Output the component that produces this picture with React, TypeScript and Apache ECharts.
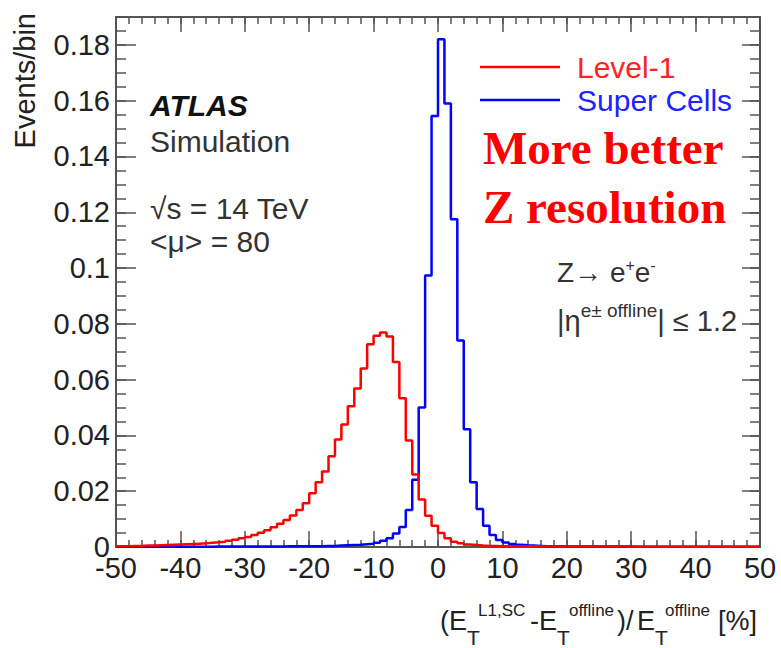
import React, { useEffect, useRef } from 'react';
import * as echarts from 'echarts';

// Histogram binning (percent)
const BIN_START = -50;
const BIN_WIDTH = 1;

// Level-1 (red) bin contents, bins from -50 to 50, width 1
const LEVEL1 = [
  0.0003, 0.0003, 0.0004, 0.0004, 0.0005, 0.0005, 0.0006, 0.0007, 0.0008, 0.0009,
  0.001, 0.0011, 0.0012, 0.0013, 0.0015, 0.0017, 0.0019, 0.0022, 0.0026, 0.0031,
  0.0036, 0.0043, 0.0051, 0.006, 0.0071, 0.0083, 0.0097, 0.0113, 0.0133, 0.0157,
  0.0193, 0.0232, 0.0271, 0.0325, 0.0385, 0.0439, 0.0505, 0.0568, 0.064, 0.0727,
  0.0757, 0.0769, 0.0755, 0.0663, 0.0533, 0.0382, 0.026, 0.017, 0.0112, 0.0076,
  0.005, 0.0031, 0.0019, 0.0013, 0.0009, 0.0007, 0.0005, 0.0004, 0.0004, 0.0003,
  0.0003, 0.0003, 0.0003, 0.0003, 0.0003, 0.0002, 0.0002, 0.0002, 0.0002, 0.0002,
  0.0002, 0.0002, 0.0002, 0.0002, 0.0002, 0.0002, 0.0002, 0.0002, 0.0002, 0.0002,
  0.0001, 0.0001, 0.0001, 0.0001, 0.0001, 0.0001, 0.0001, 0.0001, 0.0001, 0.0001,
  0.0001, 0.0001, 0.0001, 0.0001, 0.0001, 0.0001, 0.0001, 0.0001, 0.0001, 0.0001,
];

// Super Cells (blue) bin contents
const SUPER_CELLS = [
  0.0001, 0.0001, 0.0001, 0.0001, 0.0001, 0.0001, 0.0001, 0.0001, 0.0001, 0.0001,
  0.0001, 0.0001, 0.0001, 0.0001, 0.0001, 0.0002, 0.0002, 0.0002, 0.0002, 0.0002,
  0.0002, 0.0002, 0.0002, 0.0002, 0.0002, 0.0002, 0.0003, 0.0003, 0.0003, 0.0003,
  0.0003, 0.0003, 0.0004, 0.0004, 0.0005, 0.0006, 0.0007, 0.0008, 0.001, 0.0012,
  0.0015, 0.0022, 0.0031, 0.0048, 0.0072, 0.0133, 0.0241, 0.05, 0.0973, 0.1545,
  0.182, 0.159, 0.1175, 0.074, 0.0422, 0.0232, 0.0136, 0.0076, 0.0043, 0.0025,
  0.0016, 0.0011, 0.0008, 0.0006, 0.0005, 0.0004, 0.0003, 0.0003, 0.0003, 0.0002,
  0.0002, 0.0002, 0.0002, 0.0002, 0.0002, 0.0002, 0.0002, 0.0002, 0.0002, 0.0002,
  0.0001, 0.0001, 0.0001, 0.0001, 0.0001, 0.0001, 0.0001, 0.0001, 0.0001, 0.0001,
  0.0001, 0.0001, 0.0001, 0.0001, 0.0001, 0.0001, 0.0001, 0.0001, 0.0001, 0.0001,
];

const SERIES_NAMES = ['Level-1', 'Super Cells'];
const X_MIN = -50;
const X_MAX = 50;
const X_MAJOR = 10;
const X_MINOR = 2;
const Y_MIN = 0;
const Y_MAX = 0.19;
const Y_MAJOR = 0.02;
const Y_MINOR = 0.005;

function toSteps(values: number[]): number[][] {
  const pts = values.map((v, i) => [BIN_START + i * BIN_WIDTH, v]);
  pts.push([BIN_START + values.length * BIN_WIDTH, values[values.length - 1]]);
  return pts;
}

export default function App() {
  const ref = useRef<HTMLDivElement>(null);

  useEffect(() => {
    if (!ref.current) return;
    const chart = echarts.init(ref.current, null, { renderer: 'svg' });
    const SANS = '"Liberation Sans", Arial, Helvetica, sans-serif';
    const SERIF = '"Liberation Serif", "Times New Roman", serif';
    const FRAME = '#555';
    const TXT = '#222';

    const xAxis = (position: string, interval: number, tickLen: number, showLine: boolean, showLabel: boolean) => ({
      type: 'value',
      position,
      min: X_MIN,
      max: X_MAX,
      interval,
      splitLine: { show: false },
      axisLine: { show: showLine, onZero: false, lineStyle: { color: FRAME, width: 2 } },
      axisTick: { show: true, inside: true, length: tickLen, lineStyle: { color: FRAME, width: 1.5 } },
      axisLabel: {
        show: showLabel,
        fontSize: 29,
        fontFamily: SANS,
        color: TXT,
        margin: 6,
      },
    });
    const yAxis = (position: string, interval: number, tickLen: number, showLine: boolean, showLabel: boolean) => ({
      type: 'value',
      position,
      min: Y_MIN,
      max: Y_MAX,
      interval,
      splitLine: { show: false },
      axisLine: { show: showLine, onZero: false, lineStyle: { color: FRAME, width: 2 } },
      axisTick: { show: true, inside: true, length: tickLen, lineStyle: { color: FRAME, width: 1.5 } },
      axisLabel: {
        show: showLabel,
        showMaxLabel: false,
        fontSize: 29,
        fontFamily: SANS,
        color: TXT,
        margin: 6,
      },
    });

    const txt = (text: string, x: number, y: number, font: string, fill = TXT, extra: any = {}) => ({
      type: 'text',
      x,
      y,
      silent: true,
      style: { text, font, fill, textAlign: 'left', textVerticalAlign: 'middle', ...extra },
    });

    const mainF = `27px ${SANS}`;
    const subF = `21px ${SANS}`;
    const supF = `17px ${SANS}`;

    chart.setOption({
      animation: false,
      backgroundColor: '#ffffff',
      grid: { left: 116, right: 21, top: 17, bottom: 101, containLabel: false },
      xAxis: [
        xAxis('bottom', X_MAJOR, 16, true, true),
        xAxis('bottom', X_MINOR, 7, false, false),
        xAxis('top', X_MAJOR, 15, true, false),
        xAxis('top', X_MINOR, 7, false, false),
      ],
      yAxis: [
        yAxis('left', Y_MAJOR, 20, true, true),
        yAxis('left', Y_MINOR, 10, false, false),
        yAxis('right', Y_MAJOR, 18, true, false),
        yAxis('right', Y_MINOR, 10, false, false),
      ],
      legend: {
        orient: 'vertical',
        left: 475,
        top: 47,
        icon: 'rect',
        itemWidth: 80,
        itemHeight: 2.5,
        itemGap: 3,
        selectedMode: false,
        data: [
          { name: SERIES_NAMES[0], textStyle: { color: '#f22' } },
          { name: SERIES_NAMES[1], textStyle: { color: '#22f' } },
        ],
        textStyle: { fontSize: 30, fontFamily: SANS, padding: [0, 0, 0, 12] },
      },
      series: [
        {
          name: SERIES_NAMES[1],
          type: 'line',
          step: 'end',
          xAxisIndex: 0,
          yAxisIndex: 0,
          symbol: 'none',
          data: toSteps(SUPER_CELLS),
          lineStyle: { color: '#0000ff', width: 2.5 },
          itemStyle: { color: '#0000ff' },
          z: 2,
        },
        {
          name: SERIES_NAMES[0],
          type: 'line',
          step: 'end',
          xAxisIndex: 0,
          yAxisIndex: 0,
          symbol: 'none',
          data: toSteps(LEVEL1),
          lineStyle: { color: '#ff0000', width: 2.5 },
          itemStyle: { color: '#ff0000' },
          z: 3,
        },
      ],
      graphic: [
        {
          type: 'text',
          x: 25,
          y: 13,
          rotation: Math.PI / 2,
          silent: true,
          style: { text: 'Events/bin', font: `29px ${SANS}`, fill: TXT, textAlign: 'right', textVerticalAlign: 'middle' },
        },
        txt('ATLAS', 150, 105, `italic bold 30px ${SANS}`, '#111'),
        txt('Simulation', 150, 141, `30px ${SANS}`, '#333'),
        txt('√s = 14 TeV', 150, 208, `30px ${SANS}`, '#333'),
        txt('<μ> = 80', 150, 241, `30px ${SANS}`, '#333'),
        txt('More better', 483, 148, `bold 47px ${SERIF}`, '#ff0000'),
        txt('Z resolution', 483, 207, `bold 47px ${SERIF}`, '#ff0000'),
        {
          type: 'text',
          x: 557,
          y: 272,
          silent: true,
          style: {
            text: '{m|Z→ e}{s|+}{m|e}{s|-}',
            textAlign: 'left',
            textVerticalAlign: 'middle',
            rich: {
              m: { font: `28px ${SANS}`, fill: '#333', lineHeight: 30 },
              s: { font: `16px ${SANS}`, fill: '#333', lineHeight: 16, verticalAlign: 'top' },
            },
          },
        },
        {
          type: 'text',
          x: 557,
          y: 321,
          silent: true,
          style: {
            text: '{m||η}{s|e± offline}{m|| ≤ 1.2}',
            textAlign: 'left',
            textVerticalAlign: 'middle',
            rich: {
              m: { font: `29px ${SANS}`, fill: '#333', lineHeight: 40 },
              s: { font: `19px ${SANS}`, fill: '#333', lineHeight: 12, verticalAlign: 'top' },
            },
          },
        },
        // x-axis title
        txt('(E', 440, 621, mainF),
        txt('T', 467, 637, subF),
        txt('L1,SC', 478, 610, supF),
        txt('-E', 530, 621, mainF),
        txt('T', 557, 637, subF),
        txt('offline', 569, 610, supF),
        txt(')/', 617, 621, mainF),
        txt('E', 637, 621, mainF),
        txt('T', 655, 637, subF),
        txt('offline', 665, 610, supF),
        txt('[%]', 718, 621, mainF),
      ],
    });

    return () => chart.dispose();
  }, []);

  return <div ref={ref} style={{ position: 'absolute', left: 0, top: 0, width: 781, height: 648 }} />;
}
